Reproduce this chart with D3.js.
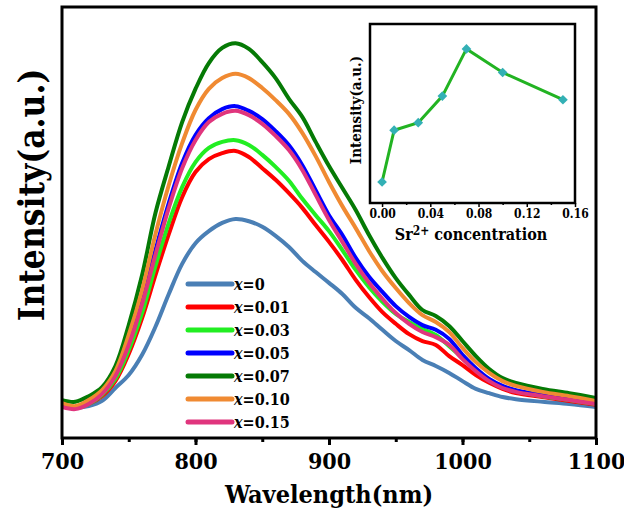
<!doctype html>
<html>
<head>
<script src="https://cdnjs.cloudflare.com/ajax/libs/d3/7.8.5/d3.min.js"></script>
<style>
  body { margin: 0; background: #fff; }
  svg text { font-family: "DejaVu Serif Condensed", "DejaVu Serif", serif !important; font-stretch: condensed; font-weight: bold; }
</style>
</head>
<body>
<svg id="chart" width="624" height="517"></svg>
<script>
// wavelengths (nm) the spectra were read at
var wavelengths = [700, 710, 720, 730, 740, 750, 760, 770, 780, 790, 800, 810, 820, 830, 840, 850, 860, 870, 880, 890,
  900, 910, 920, 930, 940, 950, 960, 970, 980, 990, 1000, 1010, 1020, 1030, 1040, 1060, 1080, 1100];

var labels = ["0", "0.01", "0.03", "0.05", "0.07", "0.10", "0.15"];
var colors = ["#4a7fb5", "#ff0000", "#22ee22", "#0000ff", "#057a05", "#f08a32", "#e0357d"];

var s0 = [7.4, 7.0, 7.4, 8.6, 11.6, 14.6, 19.3, 25.8, 33.4, 40.4, 45.2, 48.0, 49.9, 50.8, 50.3, 49.0, 46.9, 44.3, 41.1, 38.5,
  36.0, 33.4, 30.2, 27.8, 25.1, 22.5, 20.4, 18.1, 16.7, 15.1, 13.2, 11.4, 10.4, 9.5, 9.0, 8.4, 7.9, 7.2];
var s01 = [7.7, 7.0, 7.9, 9.7, 13.2, 19.5, 27.8, 37.8, 47.3, 55.9, 61.7, 64.7, 66.1, 66.6, 65.2, 62.6, 59.9, 56.8, 53.4, 49.4,
  45.5, 41.3, 36.7, 32.7, 29.2, 26.5, 24.1, 22.5, 21.6, 19.0, 16.9, 14.6, 12.8, 11.4, 10.4, 9.5, 8.6, 7.7];
var s03 = [7.7, 7.0, 7.9, 10.0, 13.7, 20.4, 29.0, 39.9, 49.9, 58.2, 64.0, 67.3, 68.7, 69.1, 68.0, 65.7, 62.9, 59.7, 55.5, 51.7,
  48.0, 43.6, 39.0, 35.0, 31.6, 28.8, 26.9, 25.3, 23.9, 21.3, 18.6, 15.8, 13.5, 11.8, 10.9, 9.7, 8.8, 7.9];
var s05 = [7.9, 7.2, 8.4, 10.7, 14.8, 22.3, 32.0, 43.6, 54.5, 63.8, 70.3, 74.2, 76.3, 77.0, 75.9, 74.0, 71.2, 67.9, 63.3, 57.5,
  51.7, 47.1, 41.8, 37.4, 33.9, 30.6, 28.1, 26.2, 25.1, 23.0, 19.3, 16.2, 13.7, 12.1, 11.1, 10.0, 9.0, 8.1];
var s07 = [8.8, 8.4, 9.7, 11.8, 16.7, 26.2, 37.8, 52.2, 63.1, 73.3, 81.0, 87.0, 90.5, 91.6, 90.3, 87.2, 83.5, 78.7, 74.5, 68.7,
  63.1, 58.0, 52.9, 47.1, 41.8, 37.1, 33.2, 29.7, 28.3, 26.0, 22.5, 19.0, 16.0, 13.9, 12.8, 11.4, 10.4, 9.3];
var s10 = [8.1, 7.4, 8.8, 11.1, 15.5, 23.9, 34.3, 47.3, 58.7, 68.4, 76.1, 81.0, 83.5, 84.5, 83.5, 81.2, 78.4, 75.2, 70.8, 65.4,
  59.4, 53.8, 48.7, 43.4, 38.7, 34.8, 31.3, 28.5, 26.9, 24.6, 20.9, 17.6, 15.1, 13.2, 12.1, 10.7, 9.7, 8.6];
var s15 = [7.2, 6.7, 7.9, 10.2, 14.4, 21.6, 31.1, 42.5, 53.4, 62.6, 69.1, 73.3, 75.2, 75.9, 74.9, 72.9, 70.1, 66.8, 62.2, 56.4,
  50.6, 45.5, 40.4, 36.0, 32.3, 29.0, 26.5, 24.6, 23.4, 21.6, 18.3, 15.5, 13.2, 11.6, 10.7, 9.7, 8.8, 7.9];
var spectra = [s0, s01, s03, s05, s07, s10, s15];

// inset: peak intensity vs Sr2+ content
var conc = [0, 0.01, 0.03, 0.05, 0.07, 0.10, 0.15];
var peak = [50.8, 66.6, 68.9, 77.0, 91.4, 84.2, 75.9];
var insetTicks = [0, 0.04, 0.08, 0.12, 0.16];

var svg = d3.select("#chart");
var L = 62, R = 596, T = 7, B = 438;

var x = d3.scaleLinear().domain([700, 1100]).range([L, R]);
var y = d3.scaleLinear().domain([0, 100]).range([B, T]);

var line = d3.line()
  .x(function(d, i) { return x(wavelengths[i]); })
  .y(function(d) { return y(d); })
  .curve(d3.curveCatmullRom.alpha(0.5));

svg.append("clipPath").attr("id", "plotClip")
  .append("rect").attr("x", L).attr("y", T).attr("width", R - L).attr("height", B - T);

svg.append("g").attr("clip-path", "url(#plotClip)")
  .selectAll("path")
  .data(spectra)
  .enter()
  .append("path")
  .attr("d", line)
  .attr("fill", "none")
  .attr("stroke", function(d, i) { return colors[i]; })
  .attr("stroke-width", 4)
  .attr("stroke-linejoin", "round");

// x axis, minor then major ticks
svg.append("g")
  .attr("transform", "translate(0," + B + ")")
  .call(d3.axisBottom(x).ticks(8).tickSize(4).tickFormat(""))
  .call(function(g) { g.select(".domain").remove(); g.selectAll("line").attr("stroke-width", 3); });
svg.append("g")
  .attr("transform", "translate(0," + B + ")")
  .call(d3.axisBottom(x).tickValues([700, 800, 900, 1000, 1100]).tickSize(7).tickPadding(8).tickFormat(d3.format("d")))
  .call(function(g) {
    g.select(".domain").remove();
    g.selectAll("line").attr("stroke-width", 3);
    g.selectAll("text").style("font-size", "23px").attr("fill", "#000");
  });

svg.append("rect")
  .attr("x", L).attr("y", T).attr("width", R - L).attr("height", B - T)
  .attr("fill", "none").attr("stroke", "#000").attr("stroke-width", 3);

svg.append("text")
  .attr("x", (L + R) / 2).attr("y", 503)
  .attr("text-anchor", "middle")
  .style("font-size", "25px")
  .text("Wavelength(nm)");

svg.append("text")
  .attr("transform", "translate(44,195) rotate(-90)")
  .attr("text-anchor", "middle")
  .style("font-size", "35px")
  .text("Intensity(a.u.)");

// legend
var legend = svg.append("g").selectAll("g")
  .data(labels)
  .enter()
  .append("g")
  .attr("transform", function(d, i) { return "translate(188," + (284 + i * 23) + ")"; });
legend.append("line")
  .attr("x1", 0).attr("x2", 44)
  .attr("stroke", function(d, i) { return colors[i]; })
  .attr("stroke-width", 5).attr("stroke-linecap", "round");
legend.append("text")
  .attr("x", 46).attr("y", 6)
  .style("font-size", "16px")
  .html(function(d) { return '<tspan font-style="italic">x</tspan>=' + d; });

// inset
var iL = 370, iR = 575, iT = 24, iB = 203;
var ix = d3.scaleLinear().domain([-0.01, 0.16]).range([iL, iR]);
var iy = d3.scaleLinear().domain([44.4, 99]).range([iB, iT]);
var inset = svg.append("g");

inset.append("g")
  .attr("transform", "translate(0," + iB + ")")
  .call(d3.axisBottom(ix).tickValues([0.02, 0.06, 0.10, 0.14]).tickSize(2).tickFormat(""))
  .call(function(g) { g.select(".domain").remove(); g.selectAll("line").attr("stroke-width", 1.5); });
inset.append("g")
  .attr("transform", "translate(0," + iB + ")")
  .call(d3.axisBottom(ix).tickValues(insetTicks).tickSize(4).tickPadding(2).tickFormat(d3.format(".2f")))
  .call(function(g) {
    g.select(".domain").remove();
    g.selectAll("line").attr("stroke-width", 1.5);
    g.selectAll("text").style("font-size", "12px").attr("fill", "#000");
  });

inset.append("rect")
  .attr("x", iL).attr("y", iT).attr("width", iR - iL).attr("height", iB - iT)
  .attr("fill", "none").attr("stroke", "#000").attr("stroke-width", 2.5);

inset.append("path")
  .datum(peak)
  .attr("d", d3.line().x(function(d, i) { return ix(conc[i]); }).y(function(d) { return iy(d); }))
  .attr("fill", "none").attr("stroke", "#22b322").attr("stroke-width", 3);

inset.selectAll("path.pt")
  .data(peak)
  .enter()
  .append("path")
  .attr("class", "pt")
  .attr("d", d3.symbol().type(d3.symbolDiamond2).size(60))
  .attr("transform", function(d, i) { return "translate(" + ix(conc[i]) + "," + iy(d) + ")"; })
  .attr("fill", "#33b0b5");

inset.append("text")
  .attr("x", 471).attr("y", 240)
  .attr("text-anchor", "middle")
  .style("font-size", "16px")
  .html('Sr<tspan dy="-5" font-size="12px">2+</tspan><tspan dy="5"> concentration</tspan>');

inset.append("text")
  .attr("transform", "translate(361,110) rotate(-90)")
  .attr("text-anchor", "middle")
  .style("font-size", "15px")
  .text("Intensity(a.u.)");
</script>
</body>
</html>
